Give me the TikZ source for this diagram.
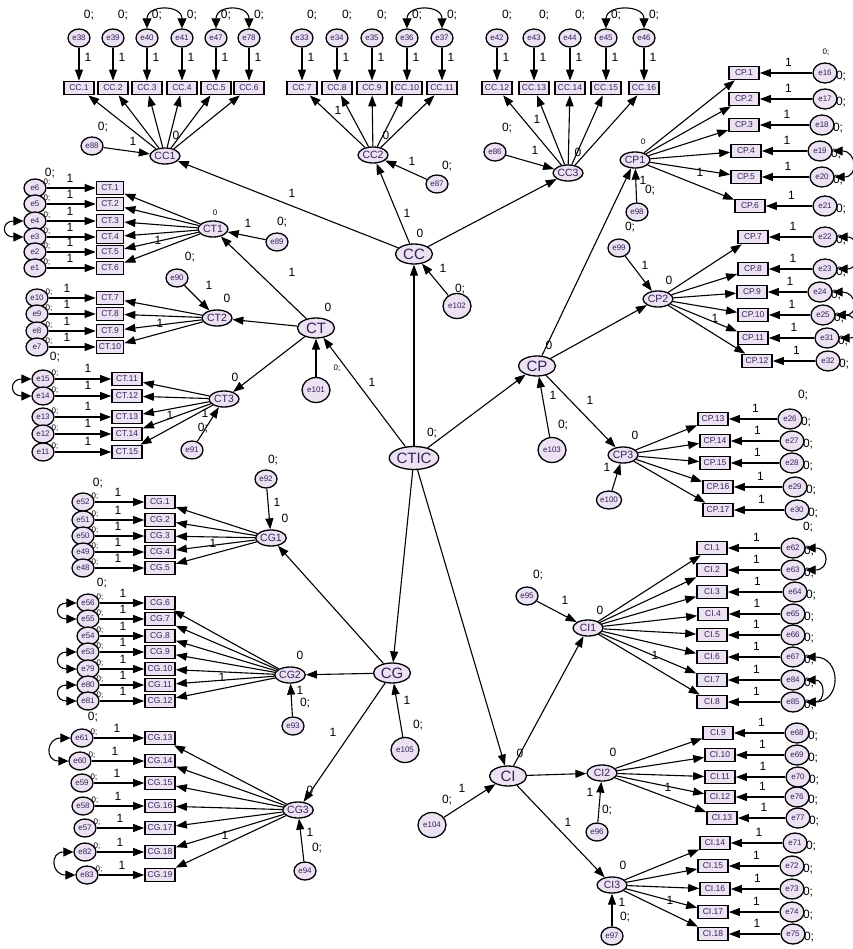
\documentclass[tikz,border=0pt]{standalone}
\usepackage{fontspec}
\setmainfont{Liberation Sans}
\usetikzlibrary{arrows.meta,shapes.geometric}
\definecolor{lav}{RGB}{236,226,243}
\definecolor{ink}{RGB}{50,35,85}
\tikzset{
 lat/.style={ellipse, draw, line width=1.3pt, fill=lav, inner sep=0pt, minimum width=30pt, minimum height=16pt, font=\fontsize{10.5}{10.5}\selectfont, text=ink},
 latb/.style={ellipse, draw, line width=1.3pt, fill=lav, inner sep=0pt, minimum width=37pt, minimum height=20pt, font=\fontsize{15}{15}\selectfont, text=ink},
 err/.style={ellipse, draw, line width=1.3pt, fill=lav, inner sep=0pt, minimum width=22pt, minimum height=18pt, font=\fontsize{8}{8}\selectfont, text=ink},
 errb/.style={err, minimum width=28pt, minimum height=25pt},
 obs/.style={rectangle, draw, line width=1.7pt, fill=lav, inner sep=0pt, minimum width=30pt, minimum height=13pt, font=\fontsize{8.5}{8.5}\selectfont, text=ink},
 arr/.style={-{Triangle[length=11pt,width=8pt]}, line width=1.1pt},
 cov/.style={{Triangle[length=10pt,width=9pt]}-{Triangle[length=10pt,width=9pt]}, line width=1.1pt},
 lbl/.style={font=\fontsize{12}{12}\selectfont, inner sep=0pt},
 slbl/.style={font=\fontsize{8}{8}\selectfont, inner sep=0pt},
}
\begin{document}
\begin{tikzpicture}[x=1pt,y=-1pt]
\path[use as bounding box, fill=white] (0,0) rectangle (852,949);

% ---------- latent variables ----------
\node[latb, minimum width=46pt, minimum height=23pt] (CTIC) at (414,458) {CTIC};
\node[latb] (CC) at (414,254) {CC};
\node[latb] (CT) at (316,328) {CT};
\node[latb] (CP) at (537,366) {CP};
\node[latb] (CG) at (392,673) {CG};
\node[latb] (CI) at (508,776) {CI};

\node[lat] (CC1) at (165,156) {CC1};
\node[lat] (CC2) at (373,155) {CC2};
\node[lat] (CC3) at (568,173) {CC3};
\node[lat] (CP1) at (635,160) {CP1};
\node[lat] (CP2) at (658,299) {CP2};
\node[lat] (CP3) at (623,455) {CP3};
\node[lat] (CT1) at (213,229) {CT1};
\node[lat] (CT2) at (217,318) {CT2};
\node[lat] (CT3) at (224,399) {CT3};
\node[lat] (CG1) at (271,538) {CG1};
\node[lat] (CG2) at (290,675) {CG2};
\node[lat] (CG3) at (298,810) {CG3};
\node[lat] (CI1) at (588,628) {CI1};
\node[lat] (CI2) at (602,773) {CI2};
\node[lat] (CI3) at (612,885) {CI3};

% ---------- disturbances of latents ----------
\node[err] (e88) at (92,146) {e88};
\node[err] (e87) at (437,184) {e87};
\node[err] (e86) at (495,152) {e86};
\node[err] (e98) at (637,212) {e98};
\node[err] (e99) at (619,248) {e99};
\node[err] (e100) at (609,500) {e100};
\node[err] (e89) at (277,242) {e89};
\node[err] (e90) at (177,278) {e90};
\node[err] (e91) at (192,450) {e91};
\node[err] (e92) at (266,479) {e92};
\node[err] (e93) at (293,726) {e93};
\node[err] (e94) at (305,871) {e94};
\node[err] (e95) at (527,596) {e95};
\node[err] (e96) at (597,832) {e96};
\node[err] (e97) at (612,936) {e97};
\node[errb] (e101) at (316,390) {e101};
\node[errb] (e102) at (457,306) {e102};
\node[errb] (e103) at (552,450) {e103};
\node[errb] (e104) at (432,825) {e104};
\node[errb] (e105) at (405,750) {e105};

% ---------- CC groups (top) ----------
\foreach \n/\bx/\e in {1/79/38,2/113/39,3/147/40,4/182/41,5/216/47,6/249/78,
                       7/302/33,8/337/34,9/372/35,10/407/36,11/442/37,
                       12/497/42,13/534/43,14/570/44,15/606/45,16/644/46}{
  \node[obs] (oCC\n) at (\bx,88) {CC.\n};
  \node[lbl] at (\bx+10,15) {0;};
  \node[err] (e\e) at (\bx,38) {e\e};
  \draw[arr] (e\e) -- (oCC\n);
  \node[lbl] at (\bx+9,57) {1};
}
\foreach \n in {1,...,6} \draw[arr] (CC1) -- (oCC\n);
\foreach \n in {7,...,11} \draw[arr] (CC2) -- (oCC\n);
\foreach \n in {12,...,16} \draw[arr] (CC3) -- (oCC\n);
\draw[cov] (e40.north) .. controls +(0,-24) and +(0,-24) .. (e41.north);
\draw[cov] (e47.north) .. controls +(0,-24) and +(0,-24) .. (e78.north);
\draw[cov] (e36.north) .. controls +(0,-24) and +(0,-24) .. (e37.north);
\draw[cov] (e45.north) .. controls +(0,-24) and +(0,-24) .. (e46.north);

% ---------- CT groups (left) ----------
\foreach \n/\by/\e/\ex/\lx in {1/188/6/35/70,2/204/5/35/70,3/221/4/35/70,4/237/3/35/70,5/252/2/35/70,6/268/1/35/70,
                              7/298/10/37/67,8/314/9/37/67,9/331/8/37/67,10/347/7/37/67}{
  \node[slbl] at (\ex+12,\by-6) {0;};
  \node[err] (e\e) at (\ex,\by) {e\e};
  \node[obs, minimum width=27pt] (oCT\n) at (110,\by) {CT.\n};
  \draw[arr] (e\e) -- (oCT\n);
  \node[lbl] at (\lx,\by-10) {1};
}
\foreach \n/\by/\e in {11/379/15,12/396/14,13/417/13,14/434/12,15/452/11}{
  \node[slbl] at (55,\by-6) {0;};
  \node[err] (e\e) at (43,\by) {e\e};
  \node[obs] (oCT\n) at (127,\by) {CT.\n};
  \draw[arr] (e\e) -- (oCT\n);
  \node[lbl] at (88,\by-11) {1};
}
\foreach \n in {1,...,6} \draw[arr] (CT1) -- (oCT\n);
\foreach \n in {7,...,10} \draw[arr] (CT2) -- (oCT\n);
\foreach \n in {11,...,15} \draw[arr] (CT3) -- (oCT\n);
\draw[cov] (e4.west) .. controls +(-22,0) and +(-22,0) .. (e3.west);
\draw[cov] (e15.west) .. controls +(-22,0) and +(-22,0) .. (e14.west);

% ---------- CG groups (left) ----------
\foreach \n/\by/\e/\ex in {1/502/52/83,2/520/51/83,3/536/50/83,4/552/49/83,5/568/48/83,
                           6/603/56/88,7/619/55/88,8/636/54/88,9/652/53/88,10/669/79/88,11/685/80/88,12/701/81/88,
                           13/738/61/82,14/761/60/80,15/783/59/82,16/806/58/83,17/828/57/85,18/852/82/85,19/875/83/87}{
  \node[slbl] at (\ex+12,\by-6) {0;};
  \node[err] (e\e) at (\ex,\by) {e\e};
  \node[obs] (oCG\n) at (160,\by) {CG.\n};
  \draw[arr] (e\e) -- (oCG\n);
  \node[lbl] at (\ex+35,\by-10) {1};
}
\foreach \n in {1,...,5} \draw[arr] (CG1) -- (oCG\n);
\foreach \n in {6,...,12} \draw[arr] (CG2) -- (oCG\n);
\foreach \n in {13,...,19} \draw[arr] (CG3) -- (oCG\n);
\draw[cov] (e56.west) .. controls +(-22,0) and +(-22,0) .. (e55.west);
\draw[cov] (e53.west) .. controls +(-22,0) and +(-22,0) .. (e79.west);
\draw[cov] (e80.west) .. controls +(-22,0) and +(-22,0) .. (e81.west);
\draw[cov] (e61.west) .. controls +(-24,0) and +(-24,0) .. (e60.west);
\draw[cov] (e82.west) .. controls +(-24,0) and +(-24,0) .. (e83.west);

% ---------- CP groups (right) ----------
\foreach \n/\bx/\by/\e/\ex in {1/744/73/16/825,2/744/99/17/825,3/744/125/18/822,4/746/151/19/820,5/746/177/20/822,6/750/206/21/825,
                              7/753/237/22/825,8/753/269/23/825,9/752/292/24/820,10/753/315/25/823,11/753/338/31/827,12/757/361/32/828,
                              13/713/419/26/790,14/715/441/27/792,15/715/463/28/792,16/718/487/29/795,17/718/510/30/797}{
  \node[obs] (oCP\n) at (\bx,\by) {CP.\n};
  \node[lbl] at (\ex+16,\by+3) {0;};
  \node[err, minimum width=24pt, minimum height=20pt] (e\e) at (\ex,\by) {e\e};
  \draw[arr] (e\e) -- (oCP\n);
  \node[lbl] at (0.5*\bx+0.5*\ex+4,\by-11) {1};
}
\foreach \n in {1,...,6} \draw[arr] (CP1) -- (oCP\n);
\foreach \n in {7,...,12} \draw[arr] (CP2) -- (oCP\n);
\foreach \n in {13,...,17} \draw[arr] (CP3) -- (oCP\n);
\draw[cov] (e19.east) .. controls +(24,0) and +(24,0) .. (e20.east);
\draw[cov] (e22.east) .. controls +(24,0) and +(24,0) .. (e23.east);
\draw[cov] (e24.east) .. controls +(24,0) and +(24,0) .. (e25.east);
\draw[cov] (e25.east) .. controls +(24,0) and +(24,0) .. (e31.east);

% ---------- CI groups (right) ----------
\foreach \n/\bx/\by/\e/\ex in {1/712/548/62/793,2/712/570/63/793,3/712/592/64/795,4/713/614/65/793,5/712/635/66/793,6/712/657/67/793,7/712/680/84/793,8/712/702/85/793,
                              9/718/733/68/797,10/720/755/69/797,11/720/777/70/798,12/720/797/76/797,13/722/818/77/798,
                              14/715/843/71/795,15/713/866/72/792,16/715/889/73/792,17/713/912/74/792,18/713/934/75/793}{
  \node[obs] (oCI\n) at (\bx,\by) {CI.\n};
  \node[lbl] at (\ex+16,\by+3) {0;};
  \node[err, minimum width=24pt, minimum height=20pt] (e\e) at (\ex,\by) {e\e};
  \draw[arr] (e\e) -- (oCI\n);
  \node[lbl] at (0.5*\bx+0.5*\ex+4,\by-11) {1};
}
\foreach \n in {1,...,8} \draw[arr] (CI1) -- (oCI\n);
\foreach \n in {9,...,13} \draw[arr] (CI2) -- (oCI\n);
\foreach \n in {14,...,18} \draw[arr] (CI3) -- (oCI\n);
\draw[cov] (e62.east) .. controls +(24,0) and +(24,0) .. (e63.east);
\draw[cov] (e67.east) .. controls +(36,0) and +(36,0) .. (e85.east);
\draw[cov] (e84.east) .. controls +(20,0) and +(20,0) .. (e85.east);

% ---------- structural paths ----------
\foreach \t in {CC,CT,CP,CG,CI} \draw[arr] (CTIC) -- (\t);
\foreach \t in {CC1,CC2,CC3} \draw[arr] (CC) -- (\t);
\foreach \t in {CT1,CT2,CT3} \draw[arr] (CT) -- (\t);
\foreach \t in {CP1,CP2,CP3} \draw[arr] (CP) -- (\t);
\foreach \t in {CG1,CG2,CG3} \draw[arr] (CG) -- (\t);
\foreach \t in {CI1,CI2,CI3} \draw[arr] (CI) -- (\t);
\foreach \s/\t in {e88/CC1,e87/CC2,e86/CC3,e98/CP1,e99/CP2,e100/CP3,e89/CT1,e90/CT2,e91/CT3,
                   e92/CG1,e93/CG2,e94/CG3,e95/CI1,e96/CI2,e97/CI3,
                   e101/CT,e102/CC,e103/CP,e104/CI,e105/CG}
  \draw[arr] (\s) -- (\t);

% ---------- parameter labels ----------
\node[lbl] at (103,127) {0;};
\node[lbl] at (133,141) {1};
\node[lbl] at (176,135) {0};
\node[lbl] at (338,110) {1};
\node[lbl] at (386,135) {0};
\node[lbl] at (412,161) {1};
\node[lbl] at (447,166) {0;};
\node[lbl] at (507,128) {0;};
\node[lbl] at (535,150) {1};
\node[lbl] at (537,119) {1};
\node[lbl] at (578,152) {0};
\node[lbl] at (292,193) {1};
\node[lbl] at (407,213) {1};
\node[lbl] at (420,233) {0};
\node[lbl] at (443,268) {1};
\node[lbl] at (460,289) {0;};
\node[slbl] at (215,213) {0};
\node[lbl] at (248,223) {1};
\node[lbl] at (282,222) {0;};
\node[lbl] at (158,240) {1};
\node[lbl] at (190,257) {0;};
\node[lbl] at (292,272) {1};
\node[lbl] at (50,173) {0;};
\node[lbl] at (209,285) {1};
\node[lbl] at (227,298) {0};
\node[lbl] at (160,323) {1};
\node[lbl] at (55,357) {0;};
\node[lbl] at (328,307) {0};
\node[lbl] at (372,382) {1};
\node[slbl] at (337,368) {0;};
\node[lbl] at (235,377) {0};
\node[lbl] at (205,413) {1};
\node[lbl] at (203,428) {0;};
\node[lbl] at (170,415) {1};
\node[lbl] at (432,433) {0;};
\node[lbl] at (273,460) {0;};
\node[lbl] at (277,502) {1};
\node[lbl] at (285,518) {0};
\node[lbl] at (98,483) {0;};
\node[lbl] at (213,543) {1};
\node[lbl] at (102,583) {0;};
\node[lbl] at (300,655) {0};
\node[lbl] at (300,690) {1};
\node[lbl] at (305,703) {0;};
\node[lbl] at (222,677) {1};
\node[lbl] at (407,700) {1};
\node[lbl] at (418,725) {0;};
\node[lbl] at (333,732) {1};
\node[lbl] at (93,717) {0;};
\node[lbl] at (310,790) {0};
\node[lbl] at (310,832) {1};
\node[lbl] at (317,848) {0;};
\node[lbl] at (225,835) {1};
\node[lbl] at (549,345) {0};
\node[lbl] at (553,395) {1};
\node[lbl] at (563,425) {0;};
\node[lbl] at (590,400) {1};
\node[slbl] at (643,142) {0};
\node[lbl] at (643,180) {1};
\node[lbl] at (650,190) {0;};
\node[lbl] at (700,172) {1};
\node[slbl] at (826,52) {0;};
\node[lbl] at (630,227) {0;};
\node[lbl] at (645,265) {1};
\node[lbl] at (669,280) {0};
\node[lbl] at (715,318) {1};
\node[lbl] at (635,435) {0};
\node[lbl] at (607,467) {1};
\node[lbl] at (803,395) {0;};
\node[lbl] at (600,610) {0};
\node[lbl] at (565,600) {1};
\node[lbl] at (538,575) {0;};
\node[lbl] at (655,655) {1};
\node[lbl] at (808,527) {0;};
\node[lbl] at (520,753) {0};
\node[lbl] at (462,788) {1};
\node[lbl] at (447,800) {0;};
\node[lbl] at (568,822) {1};
\node[lbl] at (613,752) {0};
\node[lbl] at (590,792) {1};
\node[lbl] at (607,810) {0;};
\node[lbl] at (668,787) {1};
\node[lbl] at (623,865) {0};
\node[lbl] at (622,902) {1};
\node[lbl] at (625,917) {0;};
\node[lbl] at (670,900) {1};
\end{tikzpicture}
\end{document}
